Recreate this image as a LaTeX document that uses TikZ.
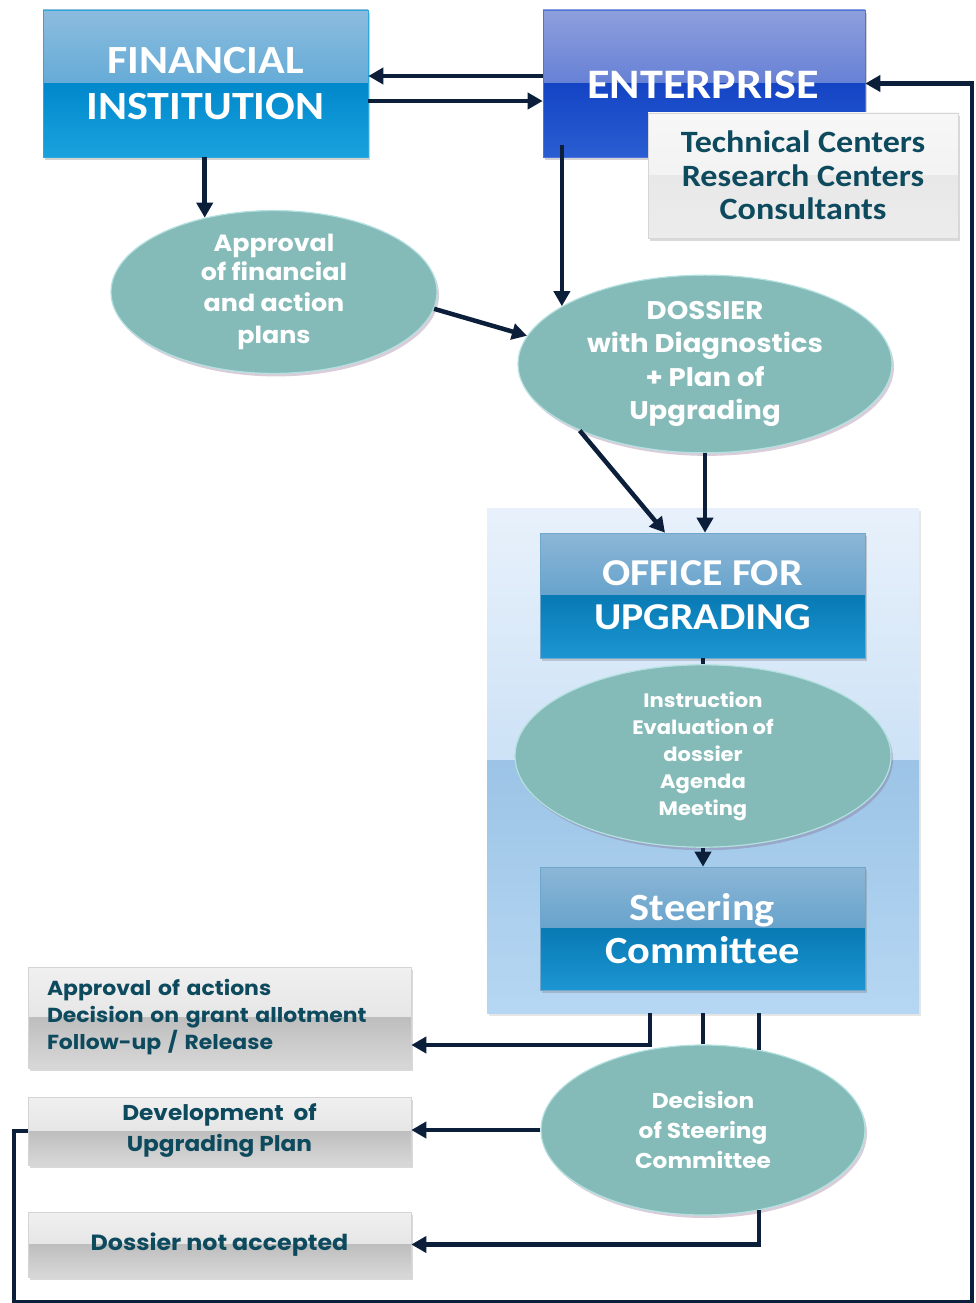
\documentclass[tikz,border=0pt]{standalone}
\usepackage{fontspec}
\setmainfont{Carlito}
\newfontfamily\boxfont{Carlito}[FakeStretch=1.1]
\newfontfamily\gothic{Poppins}[FakeStretch=1.08]
\usetikzlibrary{arrows.meta,shapes.geometric,shadows}
\definecolor{navy}{HTML}{0B1E3A}
\definecolor{tealtxt}{HTML}{0E4A5E}
\definecolor{ellfill}{HTML}{84BBB8}
\definecolor{ellrim}{HTML}{B4E0E0}
\begin{document}
\begin{tikzpicture}[x=1pt,y=-1pt,
  twotone/.style n args={4}{path picture={
    \definecolor{tA}{HTML}{#1}\definecolor{tB}{HTML}{#2}\definecolor{tC}{HTML}{#3}\definecolor{tD}{HTML}{#4}
    \shade[top color=tA,bottom color=tB] (path picture bounding box.north west) rectangle (path picture bounding box.east);
    \shade[top color=tC,bottom color=tD] (path picture bounding box.west) rectangle (path picture bounding box.south east);}},
  bluebox/.style={rectangle, line width=0.6pt, text=white, align=center,
    drop shadow={shadow xshift=2pt,shadow yshift=-3pt,opacity=0.35}},
  fibox/.style={bluebox, twotone={8CBCDE}{3E9BD0}{0088CC}{1AA2DE}, draw={rgb,255:red,43;green,168;blue,224}},
  entbox/.style={bluebox, twotone={8E9FDC}{3E62CE}{1444C4}{2A5ED2}, draw={rgb,255:red,74;green,116;blue,220}},
  offbox/.style={bluebox, twotone={8CB6D6}{4290C2}{087AB4}{1C96D2}, draw={rgb,255:red,111;green,166;blue,204}},
  greybox/.style={rectangle, draw=black!17, line width=0.6pt, text=tealtxt, align=center,
    twotone={F0F0F0}{DCDCDC}{BEBEBE}{D8D8D8},
    drop shadow={shadow xshift=2pt,shadow yshift=-3pt,opacity=0.3}},
  lightbox/.style={rectangle, draw=black!16, line width=0.8pt, text=tealtxt, align=center,
    twotone={F7F7F7}{EEEEEE}{E8E8E8}{ECECEC},
    drop shadow={shadow xshift=2pt,shadow yshift=-3pt,opacity=0.3}},
  ell/.style={ellipse, fill=ellfill, draw=ellrim, line width=1.2pt, text=white, align=center, inner sep=0pt,
    drop shadow={shadow xshift=2pt,shadow yshift=-3pt,opacity=0.3,fill=gray!70!violet}},
  arr/.style={draw=navy, line width=4.5pt, -{Triangle[length=15pt,width=16pt]}},
  ln/.style={draw=navy, line width=4.5pt},
]
\useasboundingbox (0,0) rectangle (976,1303);

% panel
\node[rectangle, minimum width=432pt, minimum height=505pt, inner sep=0pt,
  twotone={E8F1FB}{B2D3F1}{9CC4E6}{B6D7F3},
  drop shadow={shadow xshift=2pt,shadow yshift=-3pt,opacity=0.2}] (panel) at (703,760.5) {};

% boxes
\node[fibox, minimum width=325pt, minimum height=147pt, font=\boxfont\bfseries\fontsize{40}{46}\selectfont] (fi) at (205.5,83.5)
  {FINANCIAL\\INSTITUTION};
\node[entbox, minimum width=322pt, minimum height=147pt] (ent) at (704,83.5) {};
\node[text=white, font=\boxfont\bfseries\fontsize{42}{46}\selectfont] (entt) at (703,85) {ENTERPRISE};
\node[lightbox, minimum width=310pt, minimum height=125pt, font=\boxfont\bfseries\fontsize{31}{33.5}\selectfont] (tech) at (803,175.5)
  {Technical Centers\\Research Centers\\Consultants};

\node[offbox, minimum width=325pt, minimum height=125pt, font=\boxfont\bfseries\fontsize{38}{44}\selectfont] (off) at (702.5,595.5)
  {OFFICE FOR\\UPGRADING};
\node[offbox, minimum width=325pt, minimum height=123pt, font=\boxfont\bfseries\fontsize{38.5}{43}\selectfont] (ste) at (702.5,928.5)
  {Steering\\Committee};

% ellipses
\node[ell, minimum width=326pt, minimum height=160pt, font=\gothic\bfseries\fontsize{23.5}{31.5}\selectfont] (appr) at (274,292)
  {\raisebox{-3pt}{Approval}\\of financial\\and action\\plans};
\node[ell, minimum width=374pt, minimum height=172pt, font=\gothic\bfseries\fontsize{25.5}{33.5}\selectfont] (dos) at (705,364)
  {DOSSIER\\with Diagnostics\\+ Plan of\\Upgrading};
\node[ell, minimum width=376pt, minimum height=165pt, font=\gothic\bfseries\fontsize{19.5}{27}\selectfont] (ins) at (703,756)
  {Instruction\\Evaluation of\\dossier\\Agenda\\Meeting};
\node[ell, minimum width=324pt, minimum height=170pt, font=\gothic\bfseries\fontsize{21.5}{30}\selectfont] (dec) at (703,1130)
  {Decision\\of Steering\\Committee};

% left grey boxes
\node[greybox, minimum width=383pt, minimum height=101pt, align=left, text width=345pt, inner xsep=19pt,
  font=\gothic\bfseries\fontsize{20.3}{27}\selectfont] (act) at (219.5,1017.5)
  {Approval of actions\\Decision on grant allotment\\Follow-up / Release};
\node[greybox, minimum width=383pt, minimum height=68pt, font=\gothic\bfseries\fontsize{21.5}{31}\selectfont] (dev) at (219.5,1131)
  {\raisebox{-4pt}{Development\ \ of}\\\raisebox{-4pt}{Upgrading Plan}};
\node[greybox, minimum width=383pt, minimum height=65pt, font=\gothic\bfseries\fontsize{22}{30}\selectfont] (dna) at (219.5,1244.5)
  {Dossier not accepted};

% connectors
\draw[arr] (ent.west |- 0,76) -- (fi.east |- 0,76);
\draw[arr] (fi.east |- 0,101) -- (ent.west |- 0,101);
\draw[arr] (appr.133.6 |- fi.south) -- (appr.133.6);
\draw[arr] ([yshift=12pt]dos.158.5 |- ent.south) -- (dos.158.5);
\draw[arr] (appr.-6.5) -- (dos.171);
\draw[arr] (dos.208.8) -- (off.north -| 665,0);
\draw[arr] (dos.south) -- (off.north -| dos.south);
\draw[ln] (off.south -| ins.north) -- (ins.north);
\draw[arr] (ins.south) -- (ins.south |- ste.north);
\draw[arr] (panel.south -| 650,0) |- (act.east |- 0,1045);
\draw[ln] (panel.south -| dec.north) -- (dec.north);
\draw[ln] (dec.55.5 |- panel.south) -- (dec.55.5);
\draw[arr] (dec.-55.5) |- (dna.east);
\draw[arr] (dec.west) -- (dec.west -| dev.east);
\coordinate (fbl) at (14,1302.5);
\coordinate (fbr) at (972,1302.5);
\draw[arr] (dev.west) -| (fbl) -- (fbr) |- (ent.east);
\end{tikzpicture}
\end{document}
